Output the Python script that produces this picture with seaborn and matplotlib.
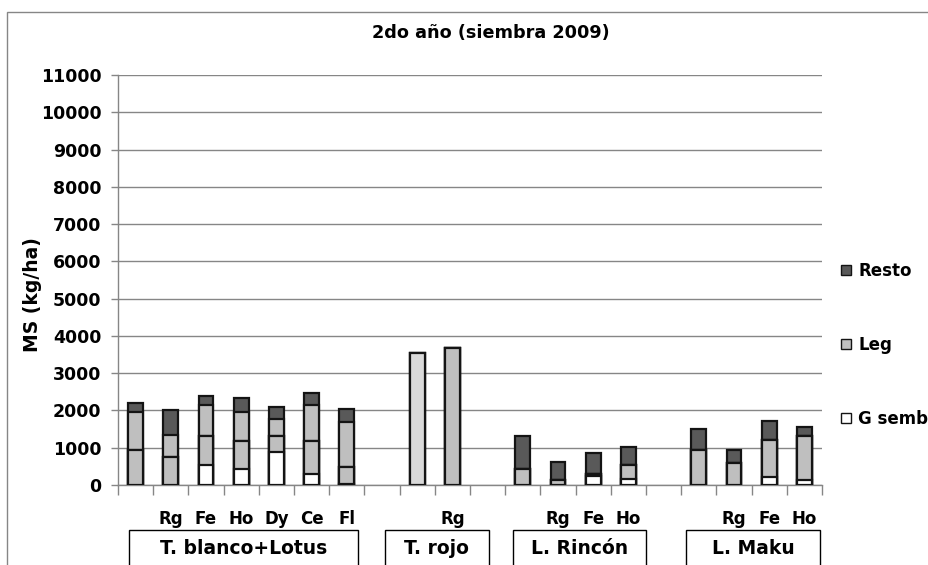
import matplotlib
matplotlib.use("Agg")
import matplotlib.pyplot as plt
import matplotlib.patches as mpatches
from matplotlib.transforms import blended_transform_factory
import seaborn as sns
import pandas as pd
import numpy as np

# ---------------- data ----------------
slots = ["TB", "TB Rg", "TB Fe", "TB Ho", "TB Dy", "TB Ce", "TB Fl", "gap1",
         "TR", "TR Rg", "gap2",
         "LR", "LR Rg", "LR Fe", "LR Ho", "gap3",
         "LM", "LM Rg", "LM Fe", "LM Ho"]
sub_labels = ["", "Rg", "Fe", "Ho", "Dy", "Ce", "Fl", "",
              "", "Rg", "",
              "", "Rg", "Fe", "Ho", "",
              "", "Rg", "Fe", "Ho"]
groups = ["T. blanco+Lotus", "T. rojo", "L. Rincón", "L. Maku"]

g_semb   = [0, 0, 532, 433, 898, 290, 40, 0,   0, 0, 0,   0, 0, 230, 160, 0,   0, 0, 210, 140]
leg_1    = [943, 755, 777, 742, 411, 885, 450, 0,   0, 3677, 0,   433, 147, 60, 375, 0,   943, 603, 1010, 1170]
leg_2    = [1010, 599, 840, 778, 465, 974, 1195, 0,   0, 0, 0,   0, 0, 0, 0, 0,   0, 0, 0, 0]
leg_solo = [0, 0, 0, 0, 0, 0, 0, 0,   3534, 0, 0,   0, 0, 0, 0, 0,   0, 0, 0, 0]
resto    = [241, 661, 242, 384, 331, 313, 366, 0,   0, 0, 0,   876, 483, 563, 475, 0,   563, 349, 509, 240]

yticks = list(range(0, 11001, 1000))

# ---------------- layout constants ----------------
W, H = 929, 565
C_WHITE, C_LEG, C_LEG_LIGHT, C_RESTO = "#ffffff", "#bfbfbf", "#d9d9d9", "#595959"
EDGE = "#141414"
GRID = "#868686"

# group box extents in category units (left, right)
group_boxes = [(-0.19, 6.31), (7.08, 10.04), (10.72, 14.51), (15.65, 19.44)]

sns.set_style("white")
plt.rcParams["font.family"] = ["DejaVu Sans"]
plt.rcParams["font.weight"] = "bold"
plt.rcParams["text.color"] = "black"
plt.rcParams["xtick.color"] = "black"
plt.rcParams["ytick.color"] = "black"
plt.rcParams["axes.labelcolor"] = "black"

fig = plt.figure(figsize=(W / 100, H / 100), dpi=100)
ax = fig.add_axes([118 / W, 1 - 485 / H, (822 - 118) / W, (485 - 75) / H])

df = pd.DataFrame({"slot": slots, "g": g_semb, "l1": leg_1, "l2": leg_2,
                   "ls": leg_solo, "r": resto})
# cumulative stacks (drawn from top down so each segment shows)
df["c_g"] = df["g"]
df["c_l1"] = df["c_g"] + df["l1"]
df["c_ls"] = df["c_l1"] + df["ls"]
df["c_l2"] = df["c_ls"] + df["l2"]
df["c_r"] = df["c_l2"] + df["r"]

layers = [("c_r", C_RESTO), ("c_l2", C_LEG), ("c_ls", C_LEG_LIGHT),
          ("c_l1", C_LEG), ("c_g", C_WHITE)]
for col, color in layers:
    sub = df.copy()
    sub.loc[sub[col] <= 0, col] = np.nan
    sns.barplot(data=sub, x="slot", y=col, order=slots, color=color,
                edgecolor=EDGE, linewidth=1.6, width=0.42, ax=ax,
                saturation=1, errorbar=None, zorder=3)

ax.set_xlim(-0.5, len(slots) - 0.5)
ax.set_ylim(0, 11000)
ax.set_yticks(yticks)
ax.set_yticklabels([str(v) for v in yticks], fontsize=12.5, fontweight="bold")
ax.yaxis.grid(True, color=GRID, linewidth=1)
ax.set_axisbelow(True)
ax.set_xlabel("")
ax.set_ylabel("")
fig.text(33 / W, 1 - 295 / H, "MS (kg/ha)", rotation=90, fontsize=13.5,
         fontweight="bold", ha="center", va="center")

for s in ["top", "right"]:
    ax.spines[s].set_visible(False)
for s in ["left", "bottom"]:
    ax.spines[s].set_color(GRID)
    ax.spines[s].set_linewidth(1)

ax.tick_params(axis="y", which="major", length=5, color=GRID, labelcolor="black",
               width=1, direction="out", pad=7, left=True)
ax.set_xticks(range(len(slots)))
ax.set_xticklabels(sub_labels, fontsize=12, fontweight="bold")
ax.tick_params(axis="x", which="major", length=0, pad=18, labelcolor="black")
ax.set_xticks(np.arange(-0.5, len(slots) - 0.4, 1.0), minor=True)
ax.tick_params(axis="x", which="minor", length=7, color=GRID, width=1, direction="out", bottom=True)

# group boxes and labels
tr = blended_transform_factory(ax.transData, fig.transFigure)
for (x0, x1), name in zip(group_boxes, groups):
    rect = mpatches.Rectangle((x0, -0.1), x1 - x0, 0.1 + (1 - 530 / H), transform=tr,
                              fill=False, edgecolor="#000000", linewidth=1, clip_on=False)
    fig.add_artist(rect)
    t = fig.text(0, 0, name, fontsize=13.5, fontweight="bold", ha="center", va="center",
                 color="black")
    t.set_transform(tr)
    t.set_position(((x0 + x1) / 2, 1 - 549 / H))

# title
fig.text(491 / W, 1 - 33 / H, "2do año (siembra 2009)", fontsize=12.7,
         fontweight="bold", ha="center", va="center", color="black")

# outer chart border
fig.add_artist(mpatches.Rectangle((7 / W, -0.1), 1.2, 1.1 - 12 / H, transform=fig.transFigure,
                                  fill=False, edgecolor=GRID, linewidth=1))

# legend
handles = [mpatches.Patch(facecolor=C_RESTO, edgecolor=EDGE, linewidth=1, label="Resto"),
           mpatches.Patch(facecolor=C_LEG, edgecolor=EDGE, linewidth=1, label="Leg"),
           mpatches.Patch(facecolor=C_WHITE, edgecolor=EDGE, linewidth=1, label="G semb")]
leg = fig.legend(handles=handles, loc="upper left", bbox_to_anchor=(841 / W, 1 - 262 / H),
                 frameon=False, handlelength=0.6, handleheight=0.6,
                 handletextpad=0.45, labelspacing=3.35, borderpad=0, borderaxespad=0,
                 prop={"weight": "bold", "size": 12})
for txt in leg.get_texts():
    txt.set_color("black")

fig.savefig("out.png", dpi=100)
